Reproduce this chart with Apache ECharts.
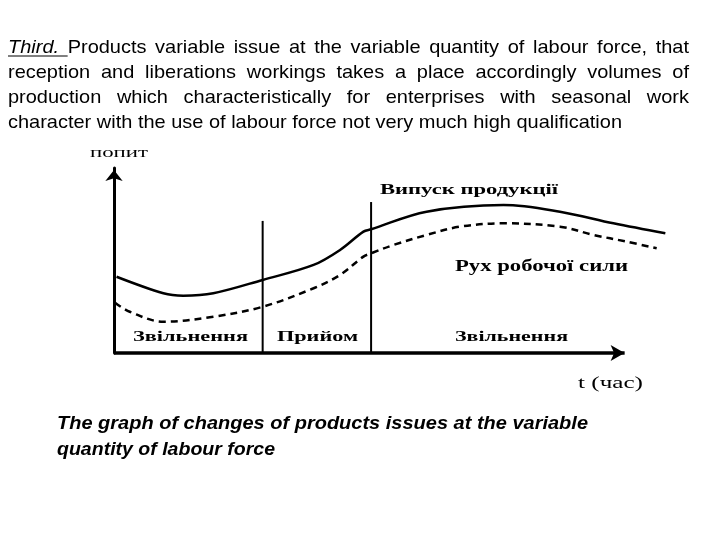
<!DOCTYPE html>
<html>
<head>
<meta charset="utf-8">
<script src="https://cdn.jsdelivr.net/npm/echarts@6/dist/echarts.min.js"></script>
<style>html,body{margin:0;padding:0;background:#fff;}#c{width:720px;height:540px;}</style>
</head>
<body>
<div id="c"></div>
<script>
// ---- Data ----
const paragraphLines = [
  "Third. Products variable issue at the variable quantity of labour force, that",
  "reception and liberations workings takes a place accordingly volumes of",
  "production which characteristically for enterprises with seasonal work",
  "character with the use of labour force not very much high qualification"
];
const captionLines = [
  "The graph of changes of products issues at the variable",
  "quantity of labour force"
];
const yAxisName = "попит";
const xAxisName = "t (час)";
const outputLabel = "Випуск продукції";
const labourLabel = "Рух робочої сили";
const phaseLabels = ["Звільнення", "Прийом", "Звільнення"];

// Output of production (solid curve): [time, demand]
const outputCurve = [
  [0.5, 41.2], [9.7, 32.3], [13.6, 31.0], [19.5, 32.3], [29.2, 39.5],
  [39.2, 47.6], [44.4, 55.7], [49.0, 65.6], [50.5, 66.9], [61.4, 76.4],
  [76.5, 80.0], [87.6, 76.4], [98.1, 70.1], [108.3, 64.7]
];
// Labour force movement (dashed curve)
const labourCurve = [
  [0.2, 27.2], [3.1, 22.3], [9.7, 16.9], [19.5, 19.6], [29.2, 25.0],
  [39.2, 35.0], [44.4, 42.2], [49.0, 52.1], [50.5, 53.9], [54.9, 58.4],
  [61.4, 63.8], [68.0, 68.3], [76.5, 70.1], [87.6, 68.3], [94.2, 63.8],
  [100.7, 60.2], [106.6, 56.6]
];
// Phase dividers: x position and top
const dividerX = [29.2, 50.5];
const dividerTop = [71.4, 81.6];
// Time axis end (arrow tip)
const timeAxisEnd = 100.3;

// ---- Helpers ----
const mctx = document.createElement('canvas').getContext('2d');
function measure(text, font) { mctx.font = font; return mctx.measureText(text).width; }

const SANS = '"Liberation Sans", Arial, sans-serif';
const SERIF = '"Liberation Serif", "Times New Roman", serif';

function fitText(text, x, y, width, size, weight, family, style) {
  const font = (style || 'normal') + ' ' + (weight || 'normal') + ' ' + size + 'px ' + family;
  const w = measure(text, font);
  return {
    type: 'text', x: x, y: y, scaleX: width / w, silent: true,
    style: { text: text, x: 0, y: 0, fill: '#000', fontSize: size, fontWeight: weight || 'normal',
      fontFamily: family, fontStyle: style || 'normal', align: 'left', verticalAlign: 'middle' }
  };
}

function paragraph() {
  const els = [];
  const x0 = 8, x1 = 689, size = 19, lh = 25, y0 = 48;
  const base = 'normal normal ' + size + 'px ' + SANS;
  const lastLine = paragraphLines[paragraphLines.length - 1];
  const sx = (622 - x0) / measure(lastLine, base);
  paragraphLines.forEach((line, li) => {
    const words = line.split(' ');
    const fonts = words.map((w, i) => (li === 0 && i === 0 ? 'italic ' : 'normal ') + 'normal ' + size + 'px ' + SANS);
    const widths = words.map((w, i) => measure(w, fonts[i]) * sx);
    const sum = widths.reduce((a, b) => a + b, 0);
    const last = li === paragraphLines.length - 1;
    const gap = last ? measure(' ', base) * sx : (x1 - x0 - sum) / (words.length - 1);
    let x = x0;
    const y = y0 + li * lh;
    words.forEach((w, i) => {
      els.push({
        type: 'text', x: x, y: y, scaleX: sx, silent: true,
        style: { text: w, x: 0, y: 0, fill: '#000', fontSize: size, fontFamily: SANS,
          fontStyle: (li === 0 && i === 0) ? 'italic' : 'normal', align: 'left', verticalAlign: 'middle' }
      });
      if (li === 0 && i === 0) {
        els.push({ type: 'line', silent: true,
          shape: { x1: x, y1: y + 8, x2: x + widths[i] + gap, y2: y + 8 },
          style: { stroke: '#000', lineWidth: 1 } });
      }
      x += widths[i] + gap;
    });
  });
  return els;
}

// ---- Chart ----
const chart = echarts.init(document.getElementById('c'), null, { renderer: 'canvas' });

const dividerSeries = dividerX.map((x, i) => ({
  type: 'line', data: [[x, 0], [x, dividerTop[i]]], symbol: 'none', silent: true,
  lineStyle: { color: '#000', width: 2 }, animation: false, z: 1
}));

const graphics = paragraph().concat([
  fitText(yAxisName, 90, 153, 58, 15, 'normal', SERIF),
  fitText(xAxisName, 578, 384, 65, 17, 'normal', SERIF),
  fitText(outputLabel, 380, 190, 178, 15, 'bold', SERIF),
  fitText(labourLabel, 455, 267, 173, 16, 'bold', SERIF),
  fitText(phaseLabels[0], 133, 337, 115, 15, 'bold', SERIF),
  fitText(phaseLabels[1], 277, 337, 81, 15, 'bold', SERIF),
  fitText(phaseLabels[2], 455, 337, 113, 15, 'bold', SERIF),
  fitText(captionLines[0], 57, 424, 531, 19, 'bold', SANS, 'italic'),
  fitText(captionLines[1], 57, 450, 218, 19, 'bold', SANS, 'italic')
]);

chart.setOption({
  animation: false,
  backgroundColor: '#fff',
  grid: { left: 114, right: 46, top: 168, bottom: 187, containLabel: false },
  xAxis: {
    type: 'value', min: 0, max: 110,
    axisLine: { show: false },
    axisTick: { show: false }, axisLabel: { show: false }, splitLine: { show: false }
  },
  yAxis: {
    type: 'value', min: 0, max: 100,
    axisLine: { show: true, onZero: false, symbol: ['none', 'arrow'], symbolSize: [13, 11], symbolOffset: [0, -2],
      lineStyle: { color: '#000', width: 3 } },
    axisTick: { show: false }, axisLabel: { show: false }, splitLine: { show: false }
  },
  series: [
    { type: 'line', name: outputLabel, data: outputCurve, smooth: 0.35, symbol: 'none',
      lineStyle: { color: '#000', width: 2.5 }, z: 3,
      markLine: {
        silent: true, animation: false, symbol: ['none', 'arrow'], symbolSize: [12, 14],
        label: { show: false },
        lineStyle: { color: '#000', width: 3.5, type: 'solid' },
        data: [[{ coord: [0, 0] }, { coord: [timeAxisEnd, 0] }]]
      } },
    { type: 'line', name: labourLabel, data: labourCurve, smooth: 0.35, symbol: 'none',
      lineStyle: { color: '#000', width: 2.5, type: [7, 5] }, z: 3 }
  ].concat(dividerSeries),
  graphic: graphics
});
</script>
</body>
</html>
